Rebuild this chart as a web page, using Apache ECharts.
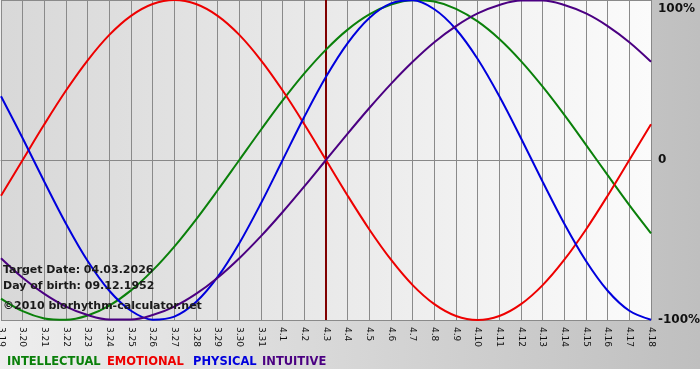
<!DOCTYPE html>
<html>
<head>
<meta charset="utf-8">
<script src="https://cdn.jsdelivr.net/npm/echarts@6/dist/echarts.min.js"></script>
<style>html,body{margin:0;padding:0;}#c{width:700px;height:380px;}</style>
</head>
<body>
<div id="c"></div>
<script>
var days = ['3.19','3.20','3.21','3.22','3.23','3.24','3.25','3.26','3.27','3.28','3.29','3.30','3.31',
  '4.1','4.2','4.3','4.4','4.5','4.6','4.7','4.8','4.9','4.10','4.11','4.12','4.13','4.14','4.15','4.16','4.17','4.18'];
var intellectual = [-86.6,-94.5,-99.0,-99.9,-97.2,-91.0,-81.5,-69.0,-54.1,-37.2,-18.9,0,18.9,37.2,54.1,69.0,81.5,91.0,97.2,99.9,99.0,94.5,86.6,75.6,61.8,45.8,28.2,9.5,-9.5,-28.2,-45.8];
var emotional = [-22.3,0,22.3,43.4,62.3,78.2,90.1,97.5,100,97.5,90.1,78.2,62.3,43.4,22.3,0,-22.3,-43.4,-62.3,-78.2,-90.1,-97.5,-100,-97.5,-90.1,-78.2,-62.3,-43.4,-22.3,0,22.3];
var physical = [39.8,13.6,-13.6,-39.8,-63.1,-81.7,-94.2,-99.8,-97.9,-88.8,-73.1,-52.0,-27.0,0,27.0,52.0,73.1,88.8,97.9,99.8,94.2,81.7,63.1,39.8,13.6,-13.6,-39.8,-63.1,-81.7,-94.2,-99.8];
var intuitive = [-61.4,-73.6,-83.7,-91.6,-96.9,-99.7,-99.7,-96.9,-91.6,-83.7,-73.6,-61.4,-47.6,-32.5,-16.5,0,16.5,32.5,47.6,61.4,73.6,83.7,91.6,96.9,99.7,99.7,96.9,91.6,83.7,73.6,61.4];
var targetDay = '4.3';
var yTicks = {'100':'100%','0':'0','-100':'-100%'};
var infoLines = ['Target Date: 04.03.2026','Day of birth: 09.12.1952','\u00A92010 biorhythm-calculator.net'];
var legendNames = ['INTELLECTUAL','EMOTIONAL','PHYSICAL','INTUITIVE'];
var colors = ['#0a800a','#ee0000','#0000dd','#4b0082'];

var FONT = '"DejaVu Sans", Verdana, sans-serif';
var chart = echarts.init(document.getElementById('c'), null, {renderer:'canvas'});
function lineSeries(name, data, color){
  return {name:name, type:'line', data:data, smooth:0.35, symbol:'none',
    lineStyle:{color:color, width:2}, z:3};
}
var series = [
  lineSeries(legendNames[0], intellectual, colors[0]),
  lineSeries(legendNames[1], emotional, colors[1]),
  lineSeries(legendNames[2], physical, colors[2]),
  lineSeries(legendNames[3], intuitive, colors[3])
];
series[0].markLine = {silent:true, symbol:['none','none'], label:{show:false}, z:1,
  lineStyle:{color:'#800000', width:2, type:'solid'}, data:[{xAxis: targetDay}]};

var graphics = [
  {type:'rect', left:0, top:369, shape:{width:700, height:11}, style:{fill:'#ffffff'}, silent:true}
];
infoLines.forEach(function(t,i){
  graphics.push({type:'text', left:3, top:[265,281,301][i], z:10,
    style:{text:t, font:'bold 11px '+FONT, fill:'#1a1a1a'}});
});
var legendX = [7,107,193,262];
legendNames.forEach(function(n,i){
  graphics.push({type:'text', left:legendX[i], top:356, z:10,
    style:{text:n, font:'bold 11.5px '+FONT, fill:colors[i]}});
});

chart.setOption({
  animation:false,
  backgroundColor:{type:'linear', x:0, y:0, x2:1, y2:0,
    colorStops:[{offset:0,color:'#eeeeee'},{offset:1,color:'#bfbfbf'}]},
  grid:{left:1, top:0, width:650, height:320, show:true, borderWidth:0, outerBoundsMode:'none', containLabel:false,
    backgroundColor:{type:'linear', x:0, y:0, x2:1, y2:0,
      colorStops:[{offset:0,color:'#d8d8d8'},{offset:1,color:'#fbfbfb'}]}},
  xAxis:{type:'category', data:days, boundaryGap:false,
    axisLine:{show:true, lineStyle:{color:'#888888', width:1}},
    axisTick:{show:true, alignWithLabel:true, interval:0, length:5, lineStyle:{color:'#888888'}},
    splitLine:{show:true, interval:0, lineStyle:{color:'#8a8a8a', width:1}},
    axisLabel:{interval:0, rotate:-90, margin:7, fontSize:9, fontFamily:FONT, color:'#111'}},
  yAxis:{type:'value', position:'right', min:-100, max:100, interval:100,
    axisLine:{show:true, lineStyle:{color:'#888888'}},
    axisTick:{show:false},
    splitLine:{show:true, lineStyle:{color:'#8a8a8a', width:1}},
    axisLabel:{margin:7, fontSize:12, fontWeight:'bold', fontFamily:FONT, color:'#111',
      verticalAlignMaxLabel:'top', verticalAlignMinLabel:'middle',
      padding:[3,0,0,0],
      formatter:function(v){ return yTicks[String(v)] || ''; }}},
  series:series,
  graphic:graphics
});
</script>
</body>
</html>
